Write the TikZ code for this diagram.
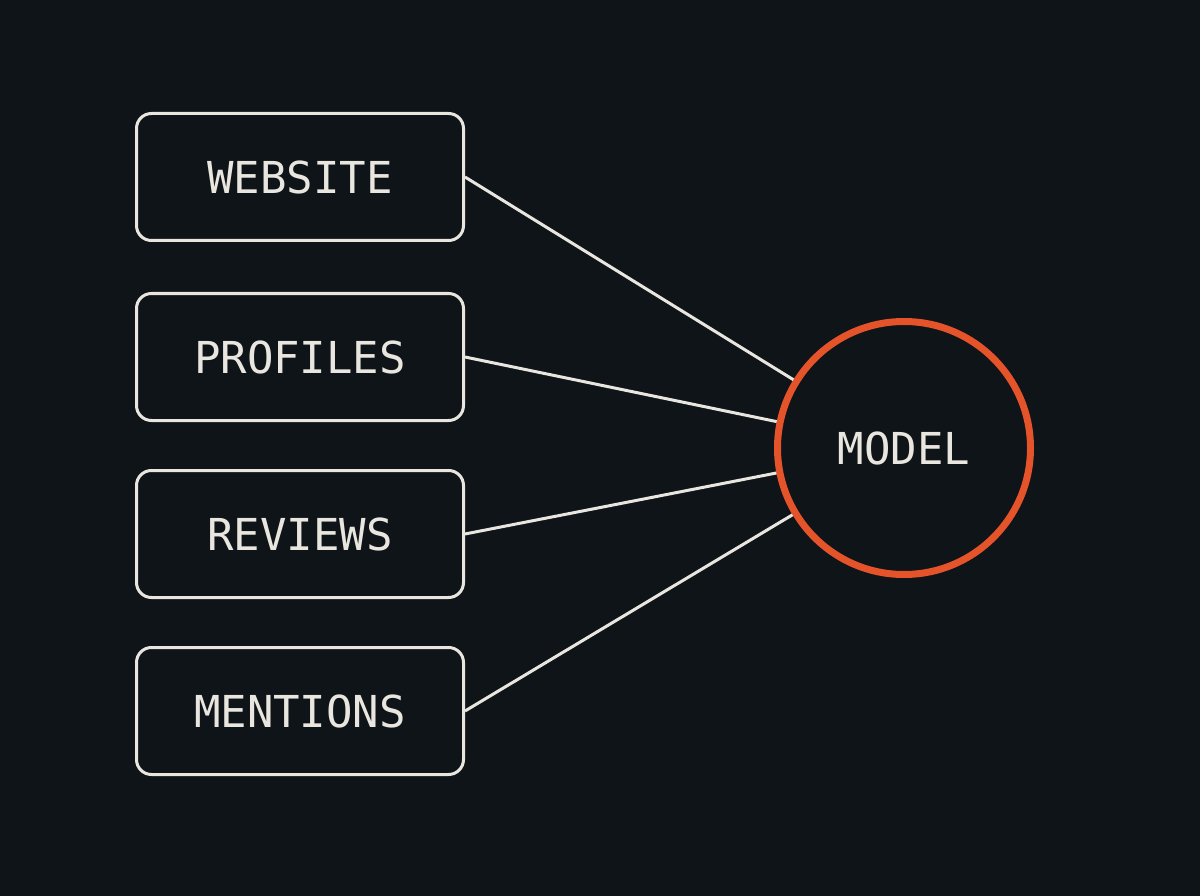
\documentclass[tikz,border=0pt]{standalone}
\usepackage{fontspec}
\setmonofont{DejaVu Sans Mono}
\definecolor{bg}{HTML}{0F1418}
\definecolor{fg}{HTML}{E8E6DF}
\definecolor{org}{HTML}{E5532A}
\begin{document}
\begin{tikzpicture}[x=1pt,y=-1pt,
  box/.style={draw=fg,line width=3pt,rounded corners=15pt,minimum width=327pt,minimum height=127pt,text=fg,font=\ttfamily\fontsize{44}{44}\selectfont,inner sep=0pt},
  link/.style={draw=fg,line width=3pt}]
\fill[bg] (0,0) rectangle (1200,896);
\useasboundingbox (0,0) rectangle (1200,896);
\node[box] (w) at (300,177) {WEBSITE};
\node[box] (p) at (300,357) {PROFILES};
\node[box] (r) at (300,534) {REVIEWS};
\node[box] (mt) at (300,711) {MENTIONS};
\node[circle,draw=org,line width=7pt,minimum size=253pt,inner sep=0pt,text=fg,font=\ttfamily\fontsize{44}{44}\selectfont] (m) at (904,448) {MODEL};
\foreach \n in {w,p,r,mt} \draw[link] (\n.east) -- (m);
\end{tikzpicture}
\end{document}
